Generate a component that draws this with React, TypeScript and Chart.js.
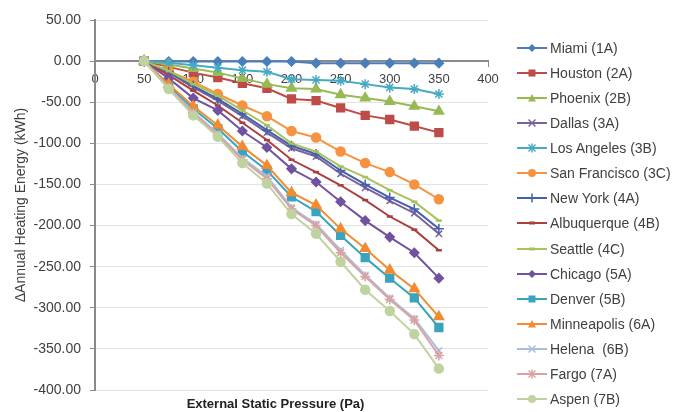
import React, { useEffect, useRef } from "react";
import { Chart, registerables } from "chart.js";

Chart.register(...registerables);

// ---- data ----
const pressures = [50, 75, 100, 125, 150, 175, 200, 225, 250, 275, 300, 325, 350];
const yTicks = [50, 0, -50, -100, -150, -200, -250, -300, -350, -400];
const xTicks = [0, 50, 100, 150, 200, 250, 300, 350, 400];

const cityNames = [
  "Miami (1A)",
  "Houston (2A)",
  "Phoenix (2B)",
  "Dallas (3A)",
  "Los Angeles (3B)",
  "San Francisco (3C)",
  "New York (4A)",
  "Albuquerque (4B)",
  "Seattle (4C)",
  "Chicago (5A)",
  "Denver (5B)",
  "Minneapolis (6A)",
  "Helena  (6B)",
  "Fargo (7A)",
  "Aspen (7B)",
];

const miami = [0, -0.5, -0.5, -0.5, -0.5, -0.5, -0.5, -2.5, -2.5, -2.5, -2.5, -2.5, -2.5];
const houston = [0, -7, -14, -20, -27, -33, -46, -48, -57, -66, -71, -79, -87];
const phoenix = [0, -4, -9, -14, -21, -28, -33, -34, -41, -45, -49, -55, -61];
const dallas = [0, -14, -32, -48, -67, -87, -106, -116, -137, -154, -170, -185, -210];
const losAngeles = [0, -2, -5, -8, -11, -13, -22, -23, -24, -28, -32, -34, -40];
const sanFrancisco = [0, -12, -25, -40, -54, -67, -85, -93, -110, -124, -135, -150, -168];
const newYork = [0, -13, -30, -46, -64, -84, -103, -113, -133, -150, -166, -180, -204];
const albuquerque = [0, -17, -36, -54, -75, -96, -120, -135, -151, -169, -189, -205, -230];
const seattle = [0, -12, -28, -42, -60, -78, -100, -110, -128, -141, -157, -171, -194];
const chicago = [0, -21, -45, -60, -85, -105, -131, -147, -171, -194, -214, -233, -264];
const denver = [0, -30, -58, -82, -110, -133, -165, -183, -212, -239, -264, -288, -324];
const minneapolis = [0, -28, -55, -78, -104, -127, -160, -175, -204, -228, -254, -277, -311];
const helena = [0, -32, -62, -88, -118, -140, -178, -198, -230, -260, -288, -313, -352];
const fargo = [0, -33, -63, -90, -120, -143, -180, -200, -233, -262, -290, -315, -358];
const aspen = [0, -34, -66, -92, -124, -149, -186, -210, -244, -278, -304, -332, -374];

const seriesValues = [
  miami, houston, phoenix, dallas, losAngeles, sanFrancisco, newYork,
  albuquerque, seattle, chicago, denver, minneapolis, helena, fargo, aspen,
];

// ---- styles ----
const colors = [
  "#4a7ebb", "#be4b48", "#98b954", "#7d60a0", "#46aac5", "#f69240", "#4360aa",
  "#a8403d", "#a6c45c", "#7052a0", "#3aa3bd", "#f28b32", "#a9bde0", "#d9a3a2", "#bfd3a0",
];
const markers = [
  "diamond", "square", "triangle", "x", "star", "circle", "plus",
  "dash", "dash", "diamond", "square", "triangle", "x", "star", "circle",
];
const chartStyle: Record<string, string> = {
  diamond: "rectRot", square: "rect", triangle: "triangle", x: "crossRot",
  star: "star", circle: "circle", plus: "cross", dash: "line",
};
const radius: Record<string, number> = {
  diamond: 4.5, square: 5.5, triangle: 5.5, x: 4.5, star: 5, circle: 4.5, plus: 5, dash: 3,
};

const FONT = '"Liberation Sans", Arial, Helvetica, sans-serif';
const TEXT = "#404040";

function LegendIcon({ kind, color }: { kind: string; color: string }) {
  const cx = 16, cy = 7;
  let m: React.ReactNode = null;
  if (kind === "diamond") m = <polygon points={`${cx},${cy - 4} ${cx + 4},${cy} ${cx},${cy + 4} ${cx - 4},${cy}`} fill={color} />;
  else if (kind === "square") m = <rect x={cx - 3.5} y={cy - 3.5} width={7} height={7} fill={color} />;
  else if (kind === "triangle") m = <polygon points={`${cx},${cy - 4} ${cx + 4},${cy + 3.5} ${cx - 4},${cy + 3.5}`} fill={color} />;
  else if (kind === "x") m = <g stroke={color} strokeWidth={1.5}><line x1={cx - 3.5} y1={cy - 3.5} x2={cx + 3.5} y2={cy + 3.5} /><line x1={cx + 3.5} y1={cy - 3.5} x2={cx - 3.5} y2={cy + 3.5} /></g>;
  else if (kind === "star") m = <g stroke={color} strokeWidth={1.5}><line x1={cx - 3.5} y1={cy - 3.5} x2={cx + 3.5} y2={cy + 3.5} /><line x1={cx + 3.5} y1={cy - 3.5} x2={cx - 3.5} y2={cy + 3.5} /><line x1={cx} y1={cy - 4.5} x2={cx} y2={cy + 4.5} /></g>;
  else if (kind === "circle") m = <circle cx={cx} cy={cy} r={4} fill={color} />;
  else if (kind === "plus") m = <g stroke={color} strokeWidth={1.5}><line x1={cx} y1={cy - 4.5} x2={cx} y2={cy + 4.5} /></g>;
  else if (kind === "dash") m = <line x1={cx - 3} y1={cy} x2={cx + 3} y2={cy} stroke={color} strokeWidth={3} />;
  return (
    <svg width={32} height={14} style={{ display: "block" }}>
      <line x1={1} y1={cy} x2={31} y2={cy} stroke={color} strokeWidth={2} />
      {m}
    </svg>
  );
}

export default function App() {
  const ref = useRef<HTMLCanvasElement>(null);

  useEffect(() => {
    const n = seriesValues.length;
    const chart = new Chart(ref.current as HTMLCanvasElement, {
      type: "line",
      data: {
        datasets: seriesValues.map((vals, i) => ({
          label: cityNames[i],
          data: pressures.map((p, j) => ({ x: p, y: vals[j] })),
          borderColor: colors[i],
          backgroundColor: colors[i],
          pointBackgroundColor: colors[i],
          pointBorderColor: colors[i],
          pointStyle: chartStyle[markers[i]] as any,
          pointRadius: radius[markers[i]],
          pointBorderWidth: markers[i] === "dash" ? 2.5 : 1.5,
          borderWidth: 2,
          tension: 0,
          order: n - i,
        })),
      },
      options: {
        responsive: false,
        animation: false,
        events: [],
        layout: { padding: { left: 0, right: 204, top: 20, bottom: 22 } },
        plugins: { legend: { display: false }, tooltip: { enabled: false } },
        scales: {
          x: {
            type: "linear",
            position: { y: 0 } as any,
            min: 0,
            max: 400,
            afterBuildTicks: (scale: any) => {
              scale.ticks = xTicks.map((v) => ({ value: v }));
            },
            ticks: { color: TEXT, font: { family: FONT, size: 13 }, padding: 6, maxRotation: 0, autoSkip: false },
            grid: { drawOnChartArea: false, drawTicks: true, tickLength: 5, tickColor: "#8a8a8a" },
            border: { color: "#8a8a8a", width: 2 },
          },
          y: {
            type: "linear",
            position: "left",
            min: -400,
            max: 50,
            afterBuildTicks: (scale: any) => {
              scale.ticks = yTicks.map((v) => ({ value: v }));
            },
            afterFit: (scale: any) => {
              scale.width = 95;
            },
            ticks: {
              color: TEXT,
              font: { family: FONT, size: 14 },
              padding: 9,
              autoSkip: false,
              callback: (v: any) => Number(v).toFixed(2),
            },
            grid: { color: "#e3e3e3", lineWidth: 1, drawTicks: true, tickLength: 5, tickColor: "#8a8a8a" },
            border: { color: "#8a8a8a", width: 2 },
            title: {
              display: true,
              text: "ΔAnnual Heating Energy (kWh)",
              color: TEXT,
              font: { family: FONT, size: 14 },
              padding: { top: 13, bottom: 0 },
            },
          },
        },
      },
    });
    return () => chart.destroy();
  }, []);

  return (
    <div style={{ position: "fixed", left: 0, top: 0, width: 692, height: 412, background: "#fff", overflow: "hidden" }}>
      <canvas ref={ref} width={692} height={412} style={{ position: "absolute", left: 0, top: 0, width: 692, height: 412 }} />
      <div
        style={{
          position: "absolute", left: 0, width: 551, top: 396, textAlign: "center",
          fontFamily: FONT, fontWeight: "bold", fontSize: 13, color: "#222", lineHeight: "16px",
        }}
      >
        External Static Pressure (Pa)
      </div>
      {cityNames.map((name, i) => (
        <div
          key={name}
          style={{
            position: "absolute", left: 516, top: 48 + i * 25.07 - 8, height: 16,
            display: "flex", alignItems: "center", fontFamily: FONT, fontSize: 14, color: TEXT, whiteSpace: "pre",
          }}
        >
          <LegendIcon kind={markers[i]} color={colors[i]} />
          <span style={{ marginLeft: 2 }}>{name}</span>
        </div>
      ))}
    </div>
  );
}
